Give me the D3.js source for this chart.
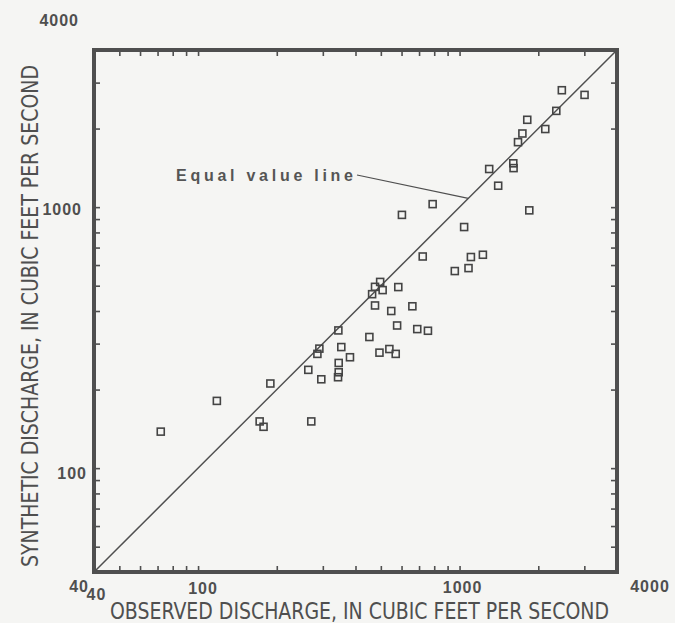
<!DOCTYPE html>
<html>
<head>
<meta charset="utf-8">
<script src="https://cdn.jsdelivr.net/npm/d3@7"></script>
<style>
  body { margin: 0; background: #f5f5f3; }
  svg { display: block; }
</style>
</head>
<body>
<svg id="chart"></svg>
<script>
const width = 675
const height = 623

// cubic feet per second
const observed = [2461, 3006, 2344, 1815, 2127, 1739, 1673, 1605, 1609, 1298,
    1405, 789, 1848, 602, 1041, 723, 1228, 1105, 1082, 959,
    497, 475, 508, 583, 463, 475, 548, 660, 344, 577,
    689, 757, 452, 353, 291, 286, 494, 539, 570, 381,
    345, 264, 345, 296, 343, 189, 118, 172, 178, 271, 72]
const synthetic = [2805, 2692, 2338, 2161, 1992, 1915, 1774, 1472, 1411, 1400,
    1208, 1027, 972, 934, 839, 647, 657, 644, 584, 569,
    517, 495, 481, 494, 464, 420, 400, 417, 337, 352,
    341, 336, 318, 291, 287, 274, 277, 286, 274, 266,
    253, 238, 233, 219, 223, 211, 181, 151, 144, 151, 138]
const domain = [40, 4000]
const tickLabels = [40, 100, 1000, 4000]
const minorTicks = [50, 60, 70, 80, 90, 100, 200, 300, 400, 500, 600, 700, 800, 900,
    1000, 2000, 3000]
const leaderAt = 1080

const frameL = 94, frameR = 617, frameT = 50, frameB = 572
const ink = '#4f4f4f'

const svg = d3.select('#chart')
    .attr('width', width)
    .attr('height', height)

const x = d3.scaleLog().domain(domain).range([frameL, frameR])
const y = d3.scaleLog().domain(domain).range([frameB, frameT])

// inward ticks on all four sides
const tickLen = 6
function ticks(axis, tx, ty) {
    let g = svg.append('g')
        .attr('transform', `translate(${tx},${ty})`)
        .call(axis.tickValues(minorTicks).tickSizeInner(-tickLen).tickSizeOuter(0).tickFormat(''))
    g.select('.domain').remove()
    g.selectAll('line').attr('stroke', ink).attr('stroke-width', 1.6)
}
ticks(d3.axisBottom(x), 0, frameB)
ticks(d3.axisTop(x), 0, frameT)
ticks(d3.axisLeft(y), frameL, 0)
ticks(d3.axisRight(y), frameR, 0)

svg.append('rect')
    .attr('x', frameL)
    .attr('y', frameT)
    .attr('width', frameR - frameL)
    .attr('height', frameB - frameT)
    .attr('fill', 'none')
    .attr('stroke', ink)
    .attr('stroke-width', 4)

// equal value line
svg.append('line')
    .attr('x1', x(domain[0])).attr('y1', y(domain[0]))
    .attr('x2', x(domain[1])).attr('y2', y(domain[1]))
    .attr('stroke', ink)
    .attr('stroke-width', 1.5)

const pts = observed.map((o, i) => [o, synthetic[i]])
const s = 7
svg.append('g')
    .selectAll('rect')
    .data(pts)
    .enter()
    .append('rect')
    .attr('x', d => x(d[0]) - s / 2)
    .attr('y', d => y(d[1]) - s / 2)
    .attr('width', s)
    .attr('height', s)
    .attr('fill', 'none')
    .attr('stroke', '#444')
    .attr('stroke-width', 1.6)

// tick labels, nudged the way the original sits
const xNudge = {40: [2.5, 28], 100: [5, 22], 1000: [3, 21], 4000: [33, 20]}
const yNudge = {40: [-5, 14], 100: [-7, 5.5], 1000: [-12, 2], 4000: [-15, -30]}
const labelFont = 'bold 16px "Liberation Sans", Arial, sans-serif'

svg.append('g')
    .selectAll('text')
    .data(tickLabels)
    .enter()
    .append('text')
    .attr('x', d => x(d) + xNudge[d][0])
    .attr('y', d => frameB + xNudge[d][1])
    .attr('text-anchor', 'middle')
    .style('font', labelFont)
    .attr('letter-spacing', 1)
    .attr('fill', ink)
    .text(d => d)

svg.append('g')
    .selectAll('text')
    .data(tickLabels)
    .enter()
    .append('text')
    .attr('x', d => frameL + yNudge[d][0])
    .attr('y', d => y(d) + yNudge[d][1])
    .attr('dy', '0.36em')
    .attr('text-anchor', 'end')
    .style('font', labelFont)
    .attr('letter-spacing', 1)
    .attr('fill', ink)
    .text(d => d)

// axis titles
const titleFont = '23px "Liberation Sans Narrow", "DejaVu Sans Condensed", "Arial Narrow", sans-serif'
svg.append('text')
    .attr('x', 110)
    .attr('y', 619)
    .attr('textLength', 499)
    .attr('lengthAdjust', 'spacingAndGlyphs')
    .style('font', titleFont)
    .attr('fill', ink)
    .text('OBSERVED DISCHARGE, IN CUBIC FEET PER SECOND')

svg.append('text')
    .attr('transform', 'translate(38,567) rotate(-90)')
    .attr('textLength', 502)
    .attr('lengthAdjust', 'spacingAndGlyphs')
    .style('font', titleFont)
    .attr('fill', ink)
    .text('SYNTHETIC DISCHARGE, IN CUBIC FEET PER SECOND')

// annotation
svg.append('text')
    .attr('x', 176)
    .attr('y', 181)
    .attr('textLength', 177)
    .attr('lengthAdjust', 'spacing')
    .style('font', 'bold 16px "Liberation Sans", Arial, sans-serif')
    .attr('fill', '#555')
    .text('Equal value line')

svg.append('line')
    .attr('x1', 357).attr('y1', 175)
    .attr('x2', x(leaderAt)).attr('y2', y(leaderAt))
    .attr('stroke', ink)
    .attr('stroke-width', 1.2)
</script>
</body>
</html>
